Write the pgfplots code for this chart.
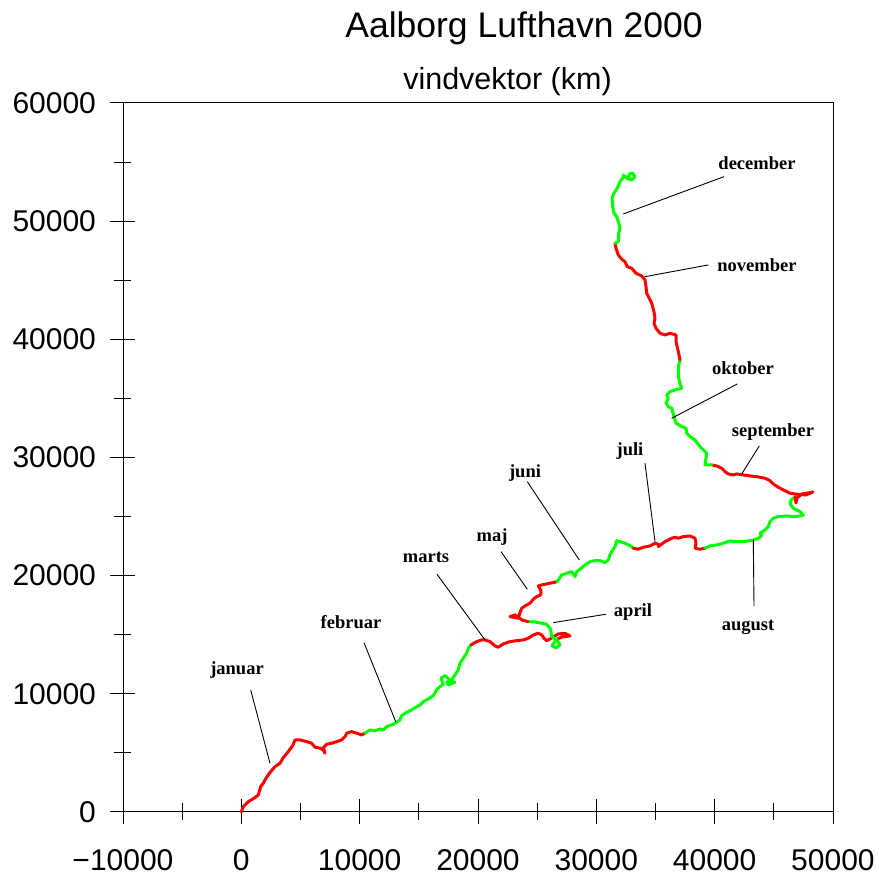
\documentclass[border=0pt]{standalone}
\usepackage{pgfplots}
\pgfplotsset{compat=1.18}
\usepackage{fontspec}
\setmainfont{Liberation Sans}
\newfontfamily\labfont{Liberation Serif}

\definecolor{vred}{RGB}{255,0,0}
\definecolor{vgreen}{RGB}{0,255,0}

\tikzset{mlabel/.style={font=\labfont\bfseries\fontsize{18.5}{22}\selectfont, inner sep=0pt},
         pointer/.style={black, line width=0.9pt}}

\begin{document}
\begin{tikzpicture}
\begin{axis}[
  scale only axis, width=710pt, height=709pt,
  xmin=-10000, xmax=50000, ymin=0, ymax=60000,
  xtick={-10000,0,10000,20000,30000,40000,50000},
  xticklabels={−10000,0,10000,20000,30000,40000,50000},
  ytick={0,10000,20000,30000,40000,50000,60000},
  minor tick num=1, tick pos=left, tick align=center,
  major tick length=25pt, minor tick length=17pt,
  every tick/.style={black, line width=0.9pt},
  axis line style={line width=0.9pt},
  ticklabel style={font=\fontsize{30}{36}\selectfont},
  /pgf/number format/assume math mode=true,
  /pgf/number format/set thousands separator={},
  scaled ticks=false,
  clip=false,
  xticklabel style={yshift=-22pt},
  yticklabel style={xshift=-11pt},
  every axis plot/.append style={line width=3pt, line join=round, line cap=round, mark=none},
]
% januar
\addplot[vred] coordinates {(0,0) (169,448) (592,872) (1158,1210) (1437,1439) (1640,2141) (1859,2429) (2087,2852) (2485,3410) (2848,3833) (3271,4121) (3549,4595) (3972,5103) (4344,5610) (4538,6093) (4961,6093) (5527,5949) (5949,5813) (6228,5475) (6651,5390) (6930,5246) (7073,4967) (6930,5441) (7217,5729) (7640,5813) (8062,5949) (8485,6093) (8764,6372) (8907,6660) (9330,6795) (9752,6660) (10175,6516) (10454,6660)};
% februar
\addplot[vgreen] coordinates {(10454,6660) (10876,6939) (11299,6854) (11722,7023) (12000,6939) (12288,7218) (12846,7421) (13133,7590) (13412,7785) (13555,8149) (13978,8437) (14400,8631) (14679,8826) (15102,9054) (15381,9334) (15803,9562) (16226,9841) (16513,10324) (16792,10603) (17071,10806) (16877,11314) (17215,11534) (17781,11026) (18060,10975) (17494,10747) (17358,10975) (17781,11170) (18060,11593) (18339,12016) (18482,12583) (18761,13006) (19049,13429) (19184,13852) (19412,14132)};
% marts
\addplot[vred] coordinates {(19412,14132) (19894,14411) (20316,14555) (20595,14555) (21018,14411) (21440,14047) (21719,13937) (22142,14216) (22708,14411) (23274,14495) (23832,14555) (24254,14699) (24677,14978) (25099,15122) (25387,14978) (25581,14699) (25809,14495) (26257,14724) (26764,15062) (27356,15105) (27778,14893) (27102,14809) (26595,14555)};
% april
\addplot[vgreen] coordinates {(26595,14555) (26257,14047) (26595,13878) (26933,14132) (26680,14555) (26257,14809) (26172,15232) (26088,15570) (25750,15909) (25243,15993) (24820,16078) (24229,16103)};
% maj
\addplot[vred] coordinates {(24229,16103) (23722,16247) (23130,16670) (22708,16526) (23409,16391) (23553,16865) (23697,17237) (23975,17432) (24398,17660) (24677,17999) (24964,18219) (25302,18363) (25328,18726) (25099,19124) (25387,19209) (26088,19353) (26705,19488)};
% juni
\addplot[vgreen] coordinates {(26705,19488) (26790,19632) (27077,20055) (27499,20199) (27922,20334) (28201,19911) (28345,20334) (28624,20537) (29046,20901) (29469,21180) (29891,21265) (30314,21265) (30736,21096) (31015,21324) (31159,21747) (31302,22027) (31581,22450) (31725,22957) (32004,22873) (32427,22737) (32705,22594) (32993,22450) (33128,22314)};
% juli
\addplot[vred] coordinates {(33128,22314) (33550,22230) (33973,22399) (34539,22509) (34962,22737) (35384,22594) (35241,22450) (35807,22873) (36373,23160) (36652,23245) (36931,23160) (37353,23296) (37920,23355) (38342,23160) (38427,22737) (38342,22314) (38764,22230) (39187,22314)};
% august
\addplot[vgreen] coordinates {(39187,22314) (39609,22509) (40175,22594) (40734,22737) (41300,22932) (41722,22873) (42289,22873) (42847,22932) (43269,23017) (43692,23160) (43979,23355) (43835,23584) (44258,23863) (44537,24143) (44680,24565) (44959,24853) (45382,24989) (46092,25048) (46650,24989) (47216,25048) (47495,25132) (47216,25411) (46650,25699) (46371,26063) (46455,26401) (46793,26655)};
% september
\addplot[vred] coordinates {(46793,26655) (46878,26148) (46962,26571) (47385,26909) (47892,26994) (48314,27078) (47723,26825) (46793,26909) (46371,26968) (45804,27248) (45382,27476) (44959,27755) (44680,28035) (44258,28238) (43556,28373) (42990,28432) (42424,28517) (41866,28602) (41579,28517) (41156,28602) (40877,28796) (40599,29084) (40175,29279) (39753,29363)};
% oktober
\addplot[vgreen] coordinates {(39753,29363) (39187,29363) (39332,30353) (38764,30912) (38342,31479) (37920,31758) (37641,32046) (37582,32469) (37218,32604) (36736,32892) (36568,33450) (36373,34161) (36086,34297) (35891,34584) (36086,35007) (35951,35287) (36229,35566) (36652,35710) (37218,35854) (37074,36277) (36931,36835) (36931,37681) (37074,38248)};
% november
\addplot[vred] coordinates {(37074,38248) (36931,38951) (36736,39797) (36736,40364) (36229,40508) (35807,40364) (35384,40508) (35046,40931) (34877,41354) (34962,41777) (34877,42335) (34683,43046) (34480,43469) (34260,43893) (34201,44451) (34116,45018) (33838,45356) (33356,45585) (32993,46008) (32621,46143) (32427,46566) (32148,46769) (31860,47133) (31666,47700) (31581,48124)};
% december
\addplot[vgreen] coordinates {(31581,48124) (31860,48259) (31860,48826) (32004,49393) (31860,49951) (31725,50374) (31497,50662) (31387,51221) (31328,51931) (31497,52355) (31776,52778) (32004,53337) (32232,53624) (32283,53903) (32570,53624) (32993,53480) (33272,53760) (33077,54046) (32790,53988) (32705,53708) (32908,53539)};

% pointers and month names
\draw[pointer] (axis cs:794,10324) -- (axis cs:2425,4121);
\node[mlabel] at (axis cs:-363,12016) {januar};
\draw[pointer] (axis cs:10369,14326) -- (axis cs:13048,7641);
\node[mlabel] at (axis cs:9271,16078) {februar};
\draw[pointer] (axis cs:16539,20114) -- (axis cs:20595,14555);
\node[mlabel] at (axis cs:15609,21578) {marts};
\draw[pointer] (axis cs:30821,16729) -- (axis cs:26367,16019);
\node[mlabel] at (axis cs:33102,16924) {april};
\draw[pointer] (axis cs:21947,22027) -- (axis cs:24170,18845);
\node[mlabel] at (axis cs:21187,23271) {maj};
\draw[pointer] (axis cs:24170,27950) -- (axis cs:28564,21324);
\node[mlabel] at (axis cs:23975,28686) {juni};
\draw[pointer] (axis cs:34116,29507) -- (axis cs:34962,22873);
\node[mlabel] at (axis cs:32849,30548) {juli};
\draw[pointer] (axis cs:43328,17432) -- (axis cs:43269,23017);
\node[mlabel] at (axis cs:42821,15655) {august};
\draw[pointer] (axis cs:43776,30971) -- (axis cs:42289,28602);
\node[mlabel] at (axis cs:44934,32156) {september};
\draw[pointer] (axis cs:41917,36217) -- (axis cs:36373,33315);
\node[mlabel] at (axis cs:42399,37571) {oktober};
\draw[pointer] (axis cs:39466,46287) -- (axis cs:34116,45297);
\node[mlabel] at (axis cs:43582,46287) {november};
\draw[pointer] (axis cs:40793,53760) -- (axis cs:32283,50603);
\node[mlabel] at (axis cs:43582,54918) {december};

\node[font=\fontsize{35.5}{40}\selectfont] at (axis cs:23891,66342) {Aalborg Lufthavn 2000};
\node[font=\fontsize{30.5}{36}\selectfont] at (axis cs:22497,61773) {vindvektor (km)};

\coordinate (bbA) at (axis cs:-20392,-5585);
\coordinate (bbB) at (axis cs:53892,68711);
\end{axis}
\pgfresetboundingbox
\path (bbA) rectangle (bbB);
\end{tikzpicture}
\end{document}
